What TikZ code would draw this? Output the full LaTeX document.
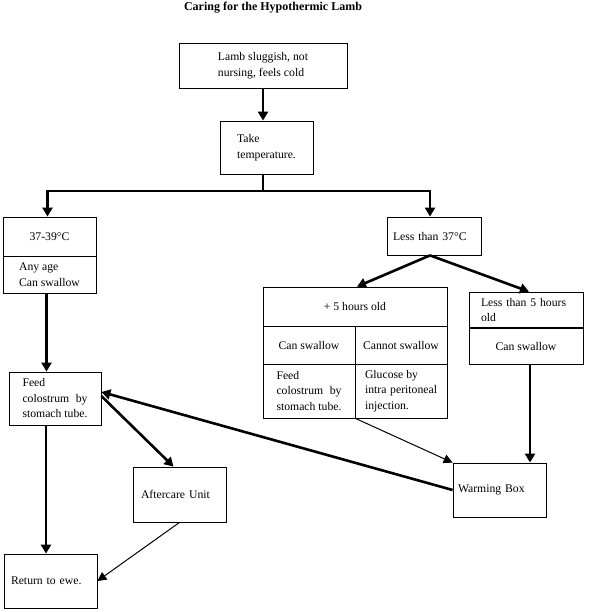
\documentclass[tikz,border=0pt]{standalone}
\usepackage{fontspec}
\setmainfont{Liberation Serif}
\usetikzlibrary{arrows.meta}

\begin{document}
\begin{tikzpicture}[x=1pt,y=-1pt,
  font=\fontsize{11.7}{15.5}\selectfont,
  box/.style={draw,line width=0.8pt,inner sep=0pt,align=left},
  cell/.style={box,align=center},
  padbox/.style={box,inner xsep=6pt,inner ysep=0pt},
  heavyline/.style={line width=2.6pt},
  heavy/.style={heavyline,-{Triangle[length=9pt,width=10pt]}},
  light/.style={line width=1pt,-{Triangle[length=9pt,width=9pt]}}]
\useasboundingbox (0,0) rectangle (595,612);
\node[font=\fontsize{12}{14}\selectfont\bfseries] (title) at (273,8) {Caring for the Hypothermic Lamb};
\node[box,minimum width=168,minimum height=45] (lamb) at (263,65.5) {Lamb sluggish, not\\nursing, feels cold};
\node[box,minimum width=93,minimum height=53] (temp) at (266.5,147.5) {Take\\temperature.};
\node[cell,minimum width=93,minimum height=39] (warm) at (49.5,236.5) {37-39°C};
\node[box,minimum width=93,minimum height=37] (age) at (49.5,274.5) {Any age\\Can swallow};
\node[box,minimum width=92,minimum height=53] (feed) at (55,398.5) {Feed\\\makebox[65pt][s]{colostrum by}\\stomach tube.};
\node[padbox,text width=82,minimum height=38] (cold) at (434,236) {Less than 37°C};
\node[cell,minimum width=184,minimum height=39] (plus) at (355,306.5) {+ 5 hours old};
\node[cell,minimum width=92,minimum height=38] (pluscan) at (309,345) {Can swallow};
\node[cell,minimum width=92,minimum height=38] (pluscannot) at (401,345) {Cannot swallow};
\node[box,minimum width=92,minimum height=54] (plusfeed) at (309,391) {Feed\\\makebox[65pt][s]{colostrum by}\\stomach tube.};
\node[box,minimum width=92,minimum height=54] (plusglucose) at (401,391) {Glucose by\\\makebox[72pt][s]{intra peritoneal}\\injection.};
\node[padbox,inner xsep=12pt,text width=90,minimum height=36] (young) at (526,310) {Less than 5 hours\\old};
\node[cell,minimum width=114,minimum height=36] (youngcan) at (526,346) {Can swallow};
\node[padbox,inner xsep=5pt,text width=83,minimum height=54] (warmbox) at (499.5,490) {Warming Box};
\node[padbox,inner xsep=8pt,text width=77,minimum height=55] (after) at (179.5,494.5) {Aftercare Unit};
\node[padbox,inner xsep=7pt,text width=79,minimum height=54] (ret) at (50.5,581) {Return to ewe.};
\draw[line width=2pt] (young.south west) -- (young.south east);
\coordinate (split) at (263,191);
\draw[heavy] (lamb.south) -- (lamb.south |- temp.north);
\draw[heavyline] (lamb.south |- temp.south) -- (split);
\draw[heavy] (split) -| ([xshift=-2pt]warm.north);
\draw[heavy] (split) -| ([xshift=-4pt]cold.north);
\draw[heavy] ([xshift=-3pt]age.south) -- ([xshift=-3pt]age.south |- feed.north);
\draw[heavy] ([xshift=-4pt]cold.south) -- ([xshift=2pt]plus.north);
\draw[heavy] ([xshift=-4pt]cold.south) -- ([xshift=3pt]young.north);
\draw[heavy] ([xshift=4pt]youngcan.south) -- ([xshift=4pt]youngcan.south |- warmbox.north);
\draw[light] (plusfeed.south east) -- (warmbox.north west);
\draw[heavy] (warmbox.west) -- (feed.8);
\draw[heavy] (feed.3) -- ([xshift=-6pt]after.north);
\draw[light] (after.south) -- (ret.east);
\draw[heavy] ([xshift=-9pt]feed.south) -- ([xshift=-9pt]feed.south |- ret.north);
\end{tikzpicture}
\end{document}
